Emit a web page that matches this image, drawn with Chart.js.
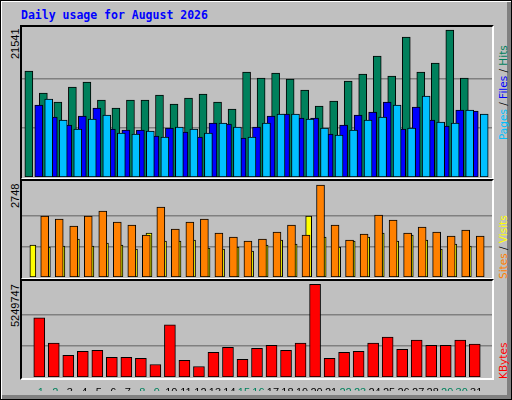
<!DOCTYPE html>
<html><head><meta charset="utf-8">
<script src="https://cdn.jsdelivr.net/npm/chart.js@4/dist/chart.umd.min.js"></script>
<style>
html,body{margin:0;padding:0;background:#c0c0c0;}
#frame{position:absolute;left:0;top:0;width:510px;height:398px;border:1px solid #000;box-shadow:inset 1px 1px 0 #fff,inset -4px -4px 0 #808080;background:#c0c0c0;overflow:hidden}
.panel{position:absolute;box-sizing:border-box;border-top:2px solid #000;border-left:2px solid #000;border-bottom:2px solid #fff;border-right:2px solid #fff}
canvas{position:absolute}
.rot{position:absolute;transform-origin:0 0;transform:rotate(-90deg);white-space:nowrap;font-family:"Liberation Sans",sans-serif;font-size:11px;line-height:13px}
.rl{font-family:"DejaVu Sans",sans-serif;font-size:10.5px}
#title{position:absolute;left:20px;top:7px;font:bold 11.5px "DejaVu Sans Mono",monospace;color:#0000ff}
</style></head><body>
<div id="frame">
<div id="title">Daily usage for August 2026</div>
<div class="panel" style="left:19px;top:24px;width:474px;height:155px"></div>
<div class="panel" style="left:19px;top:178px;width:474px;height:101px"></div>
<div class="panel" style="left:19px;top:278px;width:474px;height:101px"></div>
<div class="rot" style="left:8px;top:58px">21541</div>
<div class="rot" style="left:8px;top:207px">2748</div>
<div class="rot" style="left:8px;top:326px">5249747</div>
<div class="rot rl" style="left:496px;top:139px"><span style="color:#00c0ff">Pages</span> / <span style="color:#0000ff">Files</span> / <span style="color:#00805c">Hits</span></div>
<div class="rot rl" style="left:496px;top:278px"><span style="color:#ff8000">Sites</span> / <span style="color:#ffff00">Visits</span></div>
<div class="rot rl" style="left:496px;top:378px"><span style="color:#ff0000">KBytes</span></div>
<canvas id="c1" style="left:21px;top:26px;width:470px;height:150px"></canvas>
<canvas id="c2" style="left:21px;top:180px;width:470px;height:96px"></canvas>
<canvas id="c3" style="left:21px;top:280px;width:470px;height:110px"></canvas>
</div>
<script>
const days = Array.from({length:31},(_,i)=>i+1);
const weekend = [1,2,8,9,15,16,22,23,29,30];
const hits  = [15530,12310,10990,13190,13920,11280,10110,11280,11280,12010,10700,11570,12160,10990,9960,15380,14500,15240,14360,12750,10400,11130,14060,15090,17730,14800,20510,15380,16700,21541,14500];
const files = [10550,8790,7620,8940,10110,7030,6890,6890,6010,7180,6590,5860,7910,7760,5710,7330,8940,9230,8640,8640,6300,7620,9080,9520,10990,7030,10260,8350,7470,9820,9670];
const pages = [11430,8350,7030,8500,9080,6450,6300,6740,5860,7330,7030,6450,7910,7330,5860,7910,9230,9230,8500,7180,6150,6890,8350,8790,10550,7180,11870,8060,7910,9820,9230];
const visits= [1822,1733,1523,1822,1971,1643,1553,1255,2091,1434,1643,1733,1314,1195,1075,1135,1344,1553,1255,2748,1553,1105,1284,1852,1703,1314,1494,1344,1225,1404,1225];
const sites = [956,896,926,1135,926,1016,956,836,1314,1075,1075,1105,866,836,896,777,956,1105,986,1822,1195,896,1075,1195,1314,1075,1255,1105,836,986,926];
const kbytes= [3353000,1916000,1226000,1456000,1514000,1111000,1111000,1054000,709000,2951000,939000,594000,1399000,1686000,996000,1629000,1801000,1514000,1916000,5249747,1054000,1399000,1456000,1916000,2261000,1571000,2088000,1801000,1801000,2088000,1859000];

const SPAN = 470/15;
function xAxis(a, show){
  return {type:'linear', min:a, max:a+SPAN, display:show?true:false,
    grid:{display:false}, border:{display:false},
    afterBuildTicks:s=>{s.ticks=days.map(d=>({value:d}));},
    afterFit:s=>{ if(show) s.height=14; },
    ticks:{display:show, padding:1, autoSkip:false, maxRotation:0,
      font:{family:'Liberation Sans', size:11},
      color:c=>weekend.includes(c.tick.value)?'#00805c':'#000',
      callback:v=>String(v)}};
}
function yAxis(max, top){
  return {type:'linear', min:0, max:max, display:true,
    afterBuildTicks:s=>{s.ticks=[{value:top/3},{value:top*2/3}];},
    afterFit:s=>{s.width=0;},
    ticks:{display:false}, border:{display:false},
    grid:{color:'#808080', lineWidth:1.5, drawTicks:false}};
}
function ds(data, color, ax, w, order){
  return {data:data.map((v,i)=>({x:days[i],y:v})), backgroundColor:color, borderColor:'#000',
    borderWidth:1, borderSkipped:false, barThickness:w, xAxisID:ax, yAxisID:'y', order:order};
}
const base = {responsive:false, animation:false, devicePixelRatio:1,
  layout:{padding:0}, plugins:{legend:{display:false},tooltip:{enabled:false}}};
function mk(id, w, h, datasets, scales){
  const c=document.getElementById(id); c.width=w; c.height=h;
  new Chart(c,{type:'bar', data:{datasets}, options:Object.assign({}, base, {scales})});
}
mk('c1',470,150,[ds(hits,'#00805c','xh',8,3), ds(files,'#0000ff','xf',8,2), ds(pages,'#00c0ff','xp',8,1)],
  {xh:xAxis(0.5), xf:xAxis(0.367), xp:xAxis(0.233), y:yAxis(21980,21541)});
mk('c2',470,96,[ds(sites,'#ffff00','xs',6,2), ds(visits,'#ff8000','xv',8,1)],
  {xs:xAxis(0.567), xv:xAxis(0.233), y:yAxis(2868,2748)});
mk('c3',470,110,[ds(kbytes,'#ff0000','xk',11,1)],
  {xk:xAxis(0.333), xl:xAxis(0.233,true), y:yAxis(5440000,5249747)});
</script>
</body></html>
